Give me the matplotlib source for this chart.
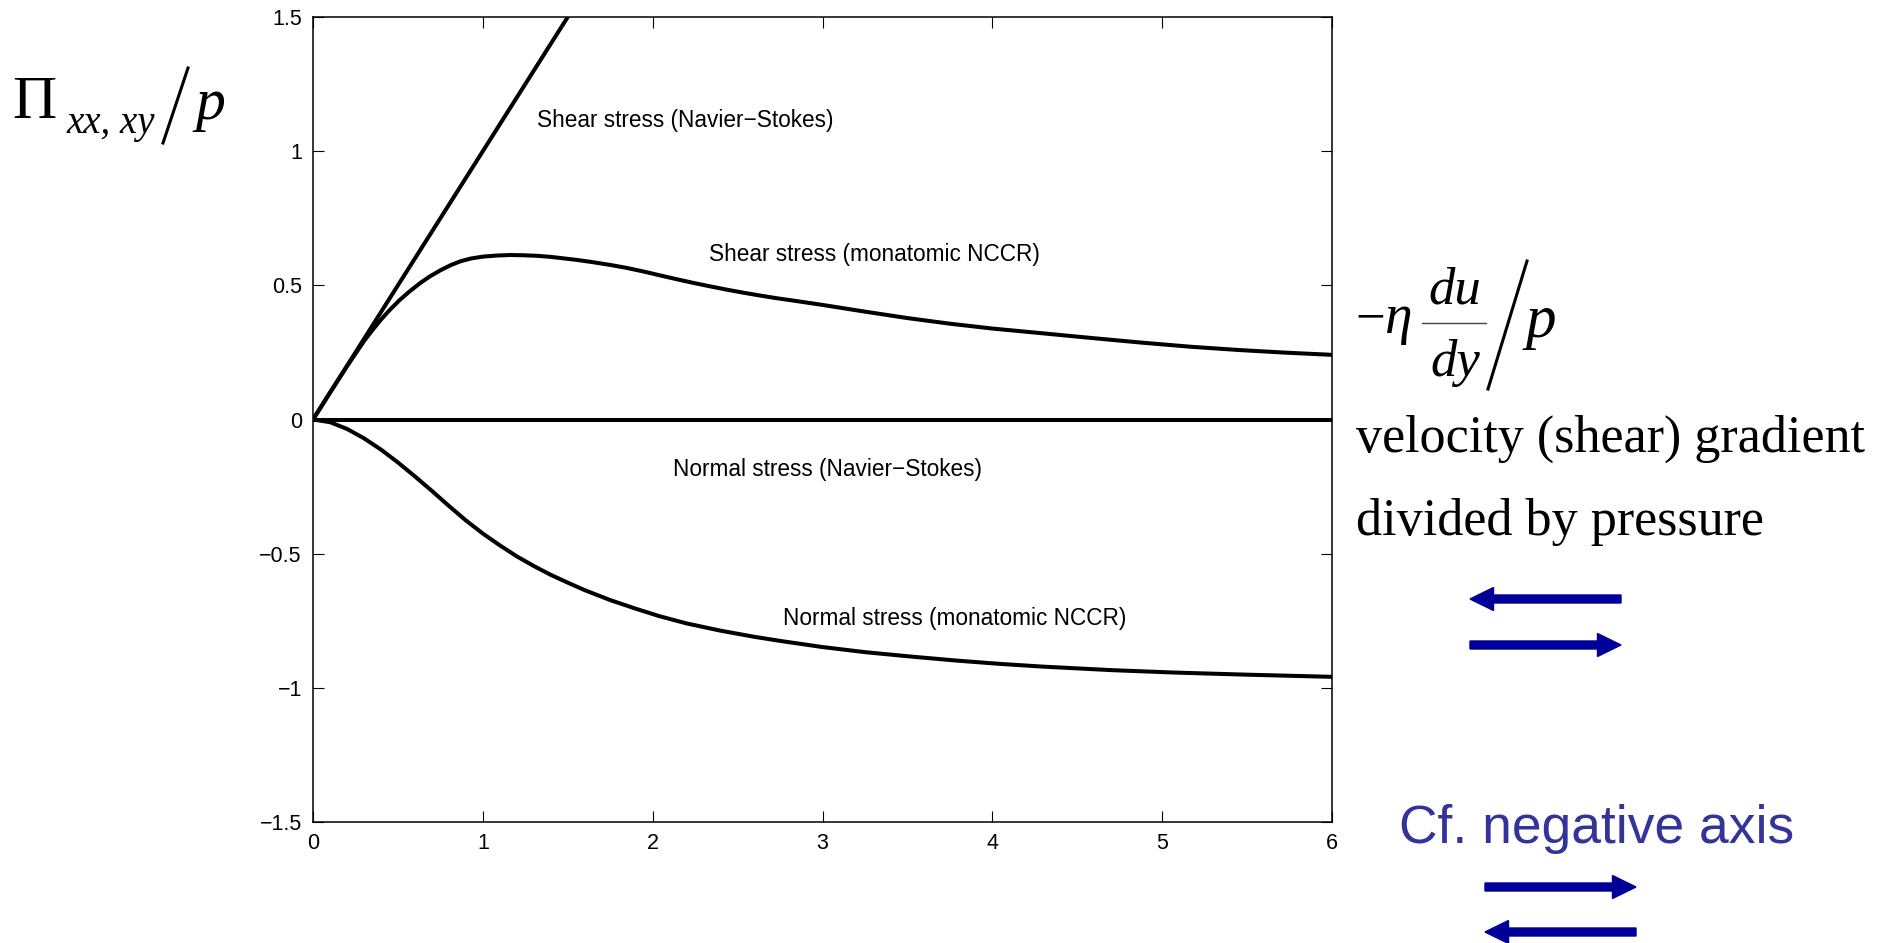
import matplotlib
matplotlib.use("Agg")
import matplotlib.pyplot as plt
import matplotlib.patches as patches
from matplotlib.lines import Line2D

W, H = 1879, 943

# Navier-Stokes (linear) curves
ns_shear_x = [0.0, 6.0]
ns_shear_y = [0.0, 6.0]
ns_normal_x = [0.0, 6.0]
ns_normal_y = [0.0, 0.0]

# NCCR shear stress
nccr_shear_x = [0.0, 0.1, 0.2, 0.3, 0.35, 0.4, 0.45, 0.51, 0.57, 0.63, 0.69, 0.75, 0.81,
                0.87, 0.93, 1.0, 1.08, 1.16, 1.24, 1.32, 1.4, 1.455, 1.55, 1.651, 1.75,
                1.847, 1.95, 2.044, 2.14, 2.24, 2.34, 2.436, 2.53, 2.632, 2.73, 2.83,
                3.0, 3.25, 3.5, 3.75, 4.0, 4.3, 4.58, 4.87, 5.17, 5.45, 5.73, 6.0]
nccr_shear_y = [0.0, 0.1, 0.198, 0.292, 0.333, 0.372, 0.407, 0.445, 0.478, 0.508, 0.534, 0.556, 0.575,
                0.590, 0.600, 0.607, 0.611, 0.613, 0.612, 0.610, 0.606, 0.602, 0.595, 0.586, 0.576,
                0.565, 0.551, 0.537, 0.523, 0.509, 0.496, 0.484, 0.473, 0.462, 0.452, 0.443,
                0.427, 0.402, 0.378, 0.357, 0.339, 0.321, 0.304, 0.287, 0.271, 0.259, 0.249, 0.241]

# NCCR normal stress
nccr_normal_x = [0.0, 0.1, 0.2, 0.3, 0.4, 0.5, 0.6, 0.7, 0.8, 0.9, 1.0, 1.1, 1.2, 1.3, 1.4,
                 1.5, 1.6, 1.75, 1.9, 2.04, 2.2, 2.4, 2.6, 2.76, 3.0, 3.25, 3.53, 3.8, 4.05,
                 4.3, 4.7, 5.07, 5.5, 6.0]
nccr_normal_y = [0.0, -0.01, -0.035, -0.07, -0.112, -0.16, -0.212, -0.266, -0.322, -0.376, -0.425,
                 -0.469, -0.51, -0.546, -0.579, -0.608, -0.636, -0.673, -0.705, -0.733, -0.76, -0.787,
                 -0.81, -0.826, -0.848, -0.867, -0.884, -0.899, -0.911, -0.921, -0.934, -0.943,
                 -0.951, -0.959]

xticks = [0, 1, 2, 3, 4, 5, 6]
yticks = [-1.5, -1, -0.5, 0, 0.5, 1, 1.5]
ytick_labels = ['\u22121.5', '\u22121', '\u22120.5', '0', '0.5', '1', '1.5']

curve_labels = ['Shear stress (Navier\u2212Stokes)', 'Shear stress (monatomic NCCR)',
                'Normal stress (Navier\u2212Stokes)', 'Normal stress (monatomic NCCR)']
curve_label_x = [1.32, 2.33, 2.12, 2.765]
curve_label_y = [1.116, 0.616, -0.188, -0.743]

plt.rcParams['font.family'] = ['Liberation Sans', 'DejaVu Sans']

fig = plt.figure(figsize=(W / 100, H / 100), dpi=100)
ax = fig.add_axes([313 / W, 1 - 822 / H, (1332 - 313) / W, (822 - 17) / H])

lw = 2.9
ax.plot(ns_shear_x, ns_shear_y, color='black', lw=lw)
ax.plot(ns_normal_x, ns_normal_y, color='black', lw=lw)
ax.plot(nccr_shear_x, nccr_shear_y, color='black', lw=lw)
ax.plot(nccr_normal_x, nccr_normal_y, color='black', lw=lw)

ax.set_xlim(0, 6)
ax.set_ylim(-1.5, 1.5)
ax.set_xticks(xticks)
ax.set_yticks(yticks)
ax.set_yticklabels(ytick_labels)
ax.tick_params(direction='in', top=True, right=True, length=8, width=0.8,
               labelsize=15.5, pad=8)
for s in ax.spines.values():
    s.set_linewidth(1.1)

for t, x, y in zip(curve_labels, curve_label_x, curve_label_y):
    ax.text(x, y, t, fontsize=16.3, va='center', ha='left')

# left label  Pi_{xx,xy} / p
serif = 'Liberation Serif'
fig.text(12 / W, 1 - 118 / H, '\u03a0', fontsize=44, family=serif, va='baseline')
fig.text(66 / W, 1 - 133 / H, 'xx, xy', fontsize=28, family=serif, style='italic', va='baseline')
fig.add_artist(Line2D([163 / W, 188 / W], [1 - 143 / H, 1 - 68 / H], color='black', lw=2.2))
fig.text(195 / W, 1 - 119 / H, 'p', fontsize=43, family=serif, style='italic', va='baseline')

# right label  -eta du/dy / p
fig.text(1355 / W, 1 - 333 / H, '\u2212', fontsize=38, family=serif, va='baseline')
fig.text(1384 / W, 1 - 333 / H, '\u03b7', fontsize=40, family=serif, style='italic', va='baseline')
fig.text(1455 / W, 1 - 304 / H, 'du', fontsize=38, family=serif, style='italic', va='baseline', ha='center')
fig.text(1455 / W, 1 - 376 / H, 'dy', fontsize=38, family=serif, style='italic', va='baseline', ha='center')
fig.add_artist(Line2D([1422 / W, 1486 / W], [1 - 323 / H, 1 - 323 / H], color='#444444', lw=1.0))
fig.add_artist(Line2D([1488 / W, 1527 / W], [1 - 389 / H, 1 - 261 / H], color='black', lw=2.2))
fig.text(1526 / W, 1 - 337 / H, 'p', fontsize=44, family=serif, style='italic', va='baseline')

fig.text(1356 / W, 1 - 452 / H, 'velocity (shear) gradient', fontsize=37.5, family=serif, va='baseline')
fig.text(1356 / W, 1 - 535 / H, 'divided by pressure', fontsize=37.5, family=serif, va='baseline')

fig.text(1399 / W, 1 - 843 / H, 'Cf. negative axis', fontsize=38.4, color='#333399', va='baseline')

# arrows (tail x, tip x, y) in pixels
arrow_color = '#000099'
arrows = [(1621, 1470, 599), (1470, 1621, 645), (1485, 1636, 887), (1636, 1485, 932)]
for x0, x1, y in arrows:
    fig.add_artist(patches.FancyArrow(x0 / W, 1 - y / H, (x1 - x0) / W, 0,
                                      width=8 / H, head_width=23 / H, head_length=23.5 / W,
                                      length_includes_head=True, color=arrow_color,
                                      transform=fig.transFigure))

fig.savefig('out.png', dpi=100)
